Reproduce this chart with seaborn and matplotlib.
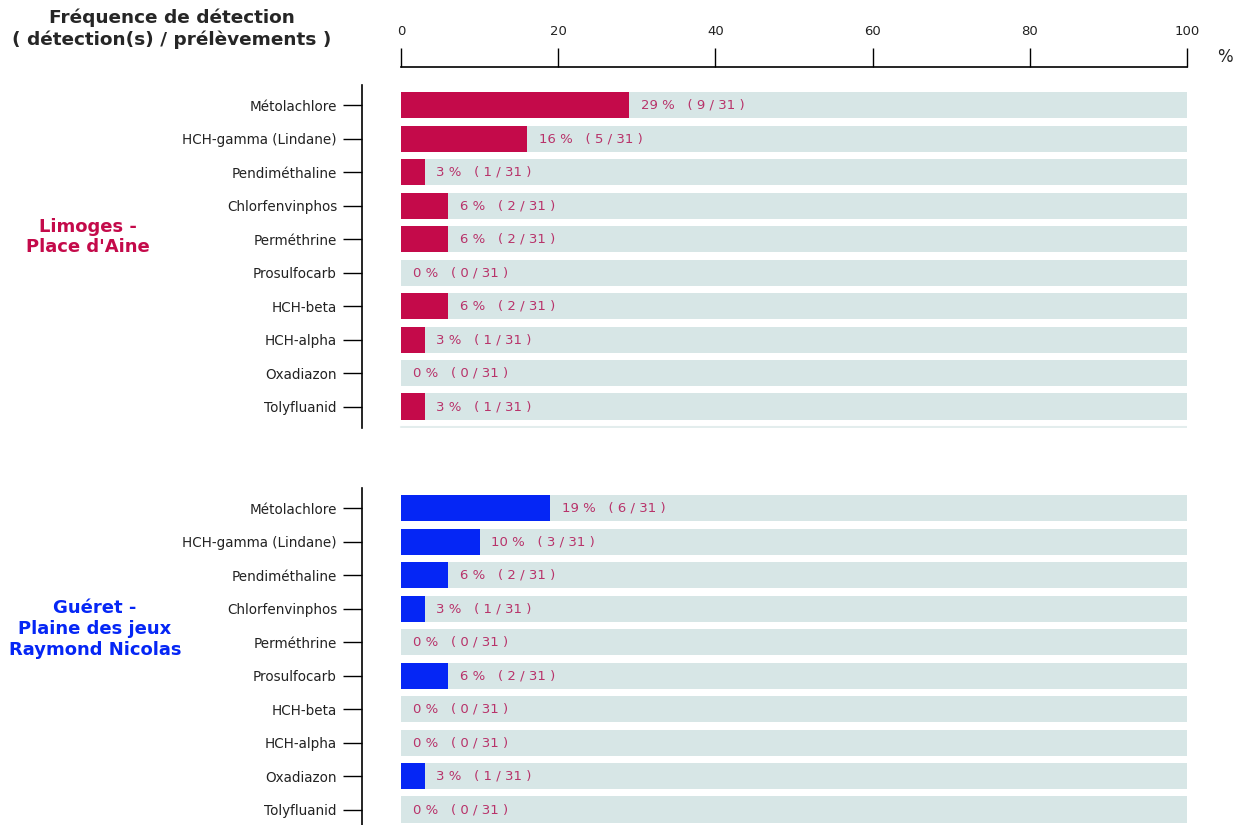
import matplotlib
matplotlib.use("Agg")
import matplotlib.pyplot as plt
import seaborn as sns
import pandas as pd
import numpy as np

substances = ["Métolachlore", "HCH-gamma (Lindane)", "Pendiméthaline", "Chlorfenvinphos",
              "Perméthrine", "Prosulfocarb", "HCH-beta", "HCH-alpha", "Oxadiazon", "Tolyfluanid"]
limoges_detections = [9, 5, 1, 2, 2, 0, 2, 1, 0, 1]
gueret_detections = [6, 3, 2, 1, 0, 2, 0, 0, 1, 0]
n_samples = 31
x_ticks = [0, 20, 40, 60, 80, 100]
site_labels = ["Limoges -\nPlace d'Aine", "Guéret -\nPlaine des jeux\nRaymond Nicolas"]
site_colors = ["#c40a4a", "#0526f5"]

sns.set_style("white")
plt.rcParams['font.family'] = ['DejaVu Sans']

W, H = 1243, 825
fig = plt.figure(figsize=(W / 100, H / 100), dpi=100)

def px_axes(left, top, right, bottom):
    return fig.add_axes([left / W, 1 - bottom / H, (right - left) / W, (bottom - top) / H])

bg_color = "#d7e6e6"
txt_color = "#b8336a"

panels = [
    (limoges_detections, 85, 428),
    (gueret_detections, 488, 831),
]
x_left_px, x0_px, x100_px = 362, 401, 1187
unit = (x100_px - x0_px) / 100.0
xmin = -(x0_px - x_left_px) / unit

axes = []
for i, (dets, top, bottom) in enumerate(panels):
    ax = px_axes(x_left_px, top, x100_px, bottom)
    axes.append(ax)
    pct = [round(d / n_samples * 100) for d in dets]
    df = pd.DataFrame({"substance": substances, "pct": pct, "full": [100] * len(substances)})
    sns.barplot(data=df, y="substance", x="full", orient="h", color=bg_color,
                width=0.78, ax=ax, saturation=1, linewidth=0)
    sns.barplot(data=df, y="substance", x="pct", orient="h", color=site_colors[i],
                width=0.78, ax=ax, saturation=1, linewidth=0)
    for j, (d, p) in enumerate(zip(dets, pct)):
        ax.text(p + 1.5, j, f"{p} %   ( {d} / {n_samples} )", va="center", ha="left",
                fontsize=9.5, color=txt_color)
    ax.set_xlim(xmin, 100)
    ax.set_ylim(9.64, -0.6)
    ax.set_xlabel("")
    ax.set_ylabel("")
    for s in ["right", "bottom", "top"]:
        ax.spines[s].set_visible(False)
    ax.spines["left"].set_color("black")
    ax.spines["left"].set_linewidth(1.2)
    ax.tick_params(axis="y", left=True, length=14, width=1.0, color="black",
                   labelsize=9.75, pad=4, labelcolor="#222222")
    ax.axhline(9.62, xmin=(0 - xmin) / (100 - xmin), xmax=1, color="#e3eded", lw=1.5)
    if i == 0:
        ax.spines["top"].set_visible(True)
        ax.spines["top"].set_position(("outward", 13))
        ax.spines["top"].set_bounds(0, 100)
        ax.spines["top"].set_color("black")
        ax.spines["top"].set_linewidth(1.2)
        ax.xaxis.set_ticks_position("top")
        ax.set_xticks(x_ticks)
        ax.set_xticklabels([str(t) for t in x_ticks])
        ax.tick_params(axis="x", top=True, bottom=False, direction="out", length=14,
                       width=1.0, color="black", labelsize=9.5, pad=6.5, labelcolor="#222222")
    else:
        ax.set_xticks([])

fig.text(1225 / W, 1 - 57 / H, "%", fontsize=12, ha="center", va="center", color="#222222")
fig.text(172 / W, 1 - 29 / H, "Fréquence de détection\n( détection(s) / prélèvements )",
         fontsize=13.3, fontweight="bold", ha="center", va="center", linespacing=1.25)
fig.text(88 / W, 1 - 237 / H, site_labels[0], fontsize=13, fontweight="bold",
         ha="center", va="center", color=site_colors[0], linespacing=1.2)
fig.text(95 / W, 1 - 629 / H, site_labels[1], fontsize=13, fontweight="bold",
         ha="center", va="center", color=site_colors[1], linespacing=1.2)

fig.savefig("out.png", dpi=100)
